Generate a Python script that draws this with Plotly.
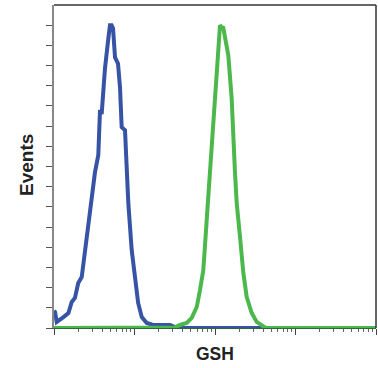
import plotly.graph_objects as go

# GSH fluorescence intensity (log scale) and event counts
blue_x = [1.0, 1.03, 1.08, 1.19, 1.31, 1.51, 1.66, 1.82, 2.0, 2.21, 2.43, 2.8, 3.08, 3.23,
          3.55, 3.73, 3.91, 4.3, 4.75, 4.96, 5.2, 5.41, 5.73, 6.24, 6.61, 6.93, 7.62, 8.0,
          8.38, 9.23, 10.1, 11.1, 12.3, 14.2, 17.0, 20.7, 27.6, 31.8, 35.0, 10000]
blue_y = [0.85, 0.8, 0.3, 0.4, 0.54, 0.74, 1.29, 1.49, 2.23, 2.52, 3.86, 5.69, 7.18, 7.72,
          8.56, 10.8, 10.6, 12.87, 14.4, 15.0, 15.0, 14.85, 13.4, 13.1, 11.9, 9.95, 9.8, 7.57,
          6.19, 3.86, 2.52, 1.24, 0.54, 0.25, 0.15, 0.15, 0.15, 0.05, 0.0, 0.0]

green_x = [1.0, 31.8, 36.7, 44.5, 51.4, 59.3, 65.1, 71.6, 78.9, 86.7, 100, 112, 115.4, 120,
           126.8, 146.3, 161, 177, 186, 204.6, 225, 247.6, 285.8, 329.6, 380, 427, 10000]
green_y = [0.0, 0.03, 0.15, 0.25, 0.5, 1.04, 1.88, 2.87, 5.35, 7.72, 11.53, 14.6, 15.0, 14.9,
           14.87, 13.51, 11.39, 7.72, 6.19, 4.5, 2.72, 1.53, 0.74, 0.3, 0.15, 0.0, 0.0]

y_ticks = list(range(0, 16))
x_major = [1, 10, 100, 1000, 10000]
x_minor = [m * d for d in [1, 10, 100, 1000] for m in range(2, 10)]

fig = go.Figure()
fig.add_trace(go.Scatter(x=blue_x, y=blue_y, mode="lines",
                         line=dict(color="#3753a6", width=4), hoverinfo="skip"))
fig.add_trace(go.Scatter(x=green_x, y=green_y, mode="lines",
                         line=dict(color="#4cb84c", width=4), hoverinfo="skip"))

font_fam = "Liberation Sans, Arial, sans-serif"

fig.update_layout(
    width=378, height=368,
    margin=dict(l=54, r=2, t=5, b=40),
    paper_bgcolor="white", plot_bgcolor="white",
    showlegend=False,
    xaxis=dict(type="log", range=[0, 4], showgrid=False, zeroline=False,
               showline=True, linecolor="#2f6a35", linewidth=1, mirror=False,
               tickvals=x_major, showticklabels=False, ticks="outside",
               ticklen=6, tickwidth=1, tickcolor="#444",
               minor=dict(tickvals=x_minor, ticks="outside", ticklen=3,
                          tickwidth=1, tickcolor="#666", showgrid=False)),
    yaxis=dict(range=[0, 16], showgrid=False, zeroline=False,
               showline=True, linecolor="#888", linewidth=1.5,
               tickvals=y_ticks, showticklabels=False, ticks="outside",
               ticklen=6, tickwidth=1, tickcolor="#555"),
    shapes=[
        dict(type="line", xref="paper", yref="paper", x0=0, x1=1, y0=1, y1=1,
             line=dict(color="#333", width=1.5)),
        dict(type="line", xref="paper", yref="paper", x0=1, x1=1, y0=0, y1=1,
             line=dict(color="#333", width=1.5)),
    ],
    annotations=[
        dict(text="<b>Events</b>", xref="paper", yref="paper",
             x=(27 - 54) / 322, y=(328 - 165) / 323, textangle=-90,
             xanchor="center", yanchor="middle", showarrow=False,
             font=dict(family=font_fam, size=19, color="#222")),
        dict(text="<b>GSH</b>", xref="paper", yref="paper",
             x=0.5, y=(328 - 354) / 323,
             xanchor="center", yanchor="middle", showarrow=False,
             font=dict(family=font_fam, size=17.5, color="#222")),
    ],
)

fig.write_html("out.html", config={"displayModeBar": False},
               post_script="document.body.style.margin='0';")
